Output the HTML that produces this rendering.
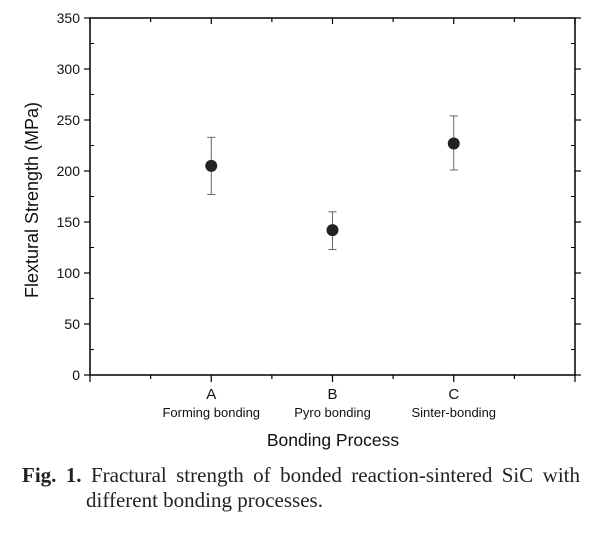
<!DOCTYPE html>
<html><head><meta charset="utf-8"><style>
body{margin:0;background:#fff;width:608px;height:539px;overflow:hidden;font-family:"Liberation Sans",sans-serif}
svg{position:absolute;left:0;top:0}
.cap{position:absolute;left:22px;top:463px;width:558px;font-family:"Liberation Serif",serif;font-size:21px;line-height:25px;color:#222}
.l1{display:block;text-align:justify;text-align-last:justify}
</style></head><body>
<svg width="608" height="460" id="c"></svg>
<div class="cap"><span class="l1"><b>Fig. 1.</b> Fractural strength of bonded reaction-sintered SiC with</span><span style="padding-left:64px">different bonding processes.</span></div>
<script>
const categories=["A","B","C"];
const subLabels=["Forming bonding","Pyro bonding","Sinter-bonding"];
const means=[205,142,227];
const errLow=[177,123,201];
const errHigh=[233,160,254];
const yTicks=[0,50,100,150,200,250,300,350];
const L=90,R=575,T=18,B=375;
const xs=i=>L+(i+1)*(R-L)/4;
const ys=v=>B-v*(B-T)/350;
const s=document.getElementById('c');
const NS="http://www.w3.org/2000/svg";
function mk(t,a,p){const e=document.createElementNS(NS,t);for(const k in a)e.setAttribute(k,a[k]);(p||s).appendChild(e);return e;}
let e=mk('rect',{x:L,y:T,width:R-L,height:B-T,fill:'none',stroke:'#000','stroke-width':1.5});


yTicks.forEach((v,i)=>{const y=ys(v);
mk('line',{x1:L-6,x2:L,y1:y,y2:y,stroke:'#000','stroke-width':1.2});
mk('line',{x1:R,x2:R+6,y1:y,y2:y,stroke:'#000','stroke-width':1.2});
const t=mk('text',{x:L-10,y:y+5,'text-anchor':'end','font-size':14,fill:'#111'});t.textContent=v;


if(i<yTicks.length-1){const ym=ys(v+25);
mk('line',{x1:L,x2:L+4,y1:ym,y2:ym,stroke:'#000'});mk('line',{x1:R-4,x2:R,y1:ym,y2:ym,stroke:'#000'});}
});
for(let k=0;k<=8;k++){const x=L+k*(R-L)/8;const maj=k%2==0;
mk('line',{x1:x,x2:x,y1:B,y2:B+(maj?7:4),stroke:'#000','stroke-width':1.2});
mk('line',{x1:x,x2:x,y1:T,y2:T+(maj?6:4),stroke:'#000','stroke-width':1.2});}
categories.forEach((c,i)=>{const x=xs(i);
let t=mk('text',{x:x,y:B+24,'text-anchor':'middle','font-size':15,fill:'#111'});t.textContent=c;


t=mk('text',{x:x,y:B+42,'text-anchor':'middle','font-size':13,fill:'#111'});t.textContent=subLabels[i];


const g=mk('g',{});


mk('line',{x1:x,x2:x,y1:ys(errLow[i]),y2:ys(errHigh[i]),stroke:'#666','stroke-width':1},g);
mk('line',{x1:x-4,x2:x+4,y1:ys(errLow[i]),y2:ys(errLow[i]),stroke:'#666'},g);
mk('line',{x1:x-4,x2:x+4,y1:ys(errHigh[i]),y2:ys(errHigh[i]),stroke:'#666'},g);
const p=mk('circle',{cx:x,cy:ys(means[i]),r:6,fill:'#222'});


});
let t=mk('text',{x:333,y:446,'text-anchor':'middle','font-size':17.5,fill:'#111'});t.textContent='Bonding Process';


t=mk('text',{x:38,y:200,'text-anchor':'middle','font-size':18,fill:'#111',transform:'rotate(-90 38 200)'});t.textContent='Flextural Strength (MPa)';


</script>
</body></html>
